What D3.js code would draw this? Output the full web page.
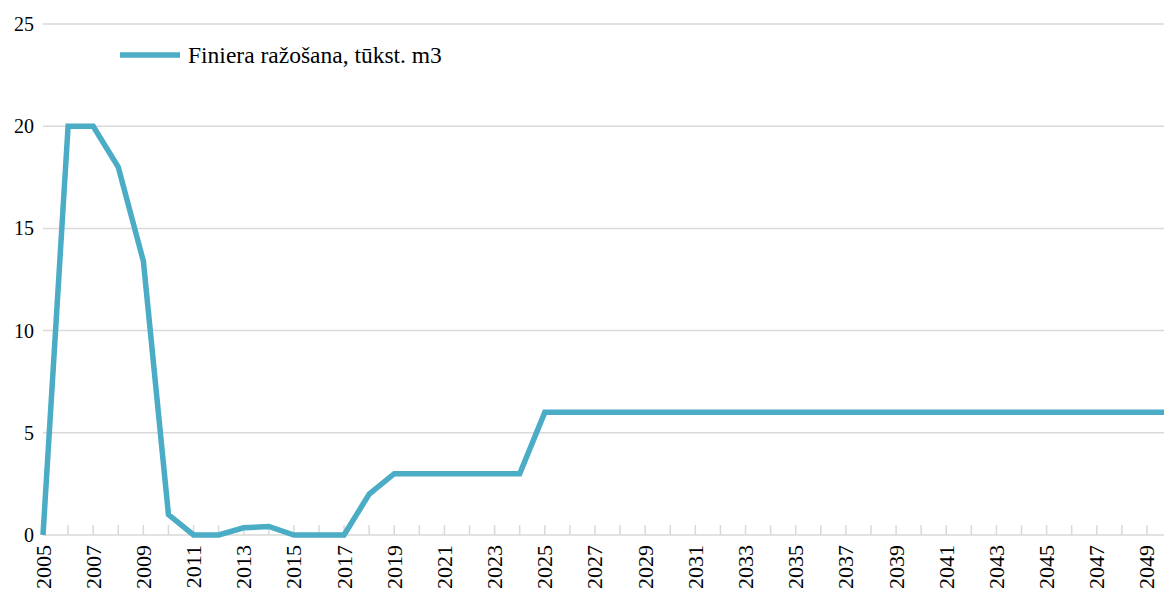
<!DOCTYPE html>
<html>
<head>
<meta charset="utf-8">
<script src="https://cdn.jsdelivr.net/npm/d3@7"></script>
<style>
  body { margin: 0; background: #fff; }
  text { font-family: "Liberation Serif", "DejaVu Serif", serif; fill: #000; }
</style>
</head>
<body>
<svg id="chart" width="1164" height="590"></svg>
<script>
// data
var years = d3.range(2005, 2051);
var values = [0, 20, 20, 18, 13.4, 1, 0, 0, 0.35, 0.42, 0, 0, 0, 2, 3,
  3, 3, 3, 3, 3, 6, 6, 6, 6, 6, 6, 6, 6, 6, 6,
  6, 6, 6, 6, 6, 6, 6, 6, 6, 6, 6, 6, 6, 6, 6, 6];
var yTicks = [0, 5, 10, 15, 20, 25];
var seriesName = 'Finiera ražošana, tūkst. m3';

var svg = d3.select('#chart'),
    x0 = 43, step = 25.09, yBottom = 535, yTop = 24;

var x = d3.scaleLinear().domain([2005, 2050]).range([x0, x0 + 45 * step]);
var y = d3.scaleLinear().domain([0, 25]).range([yBottom, yTop]);

// grid
svg.append('g').selectAll('line')
  .data(yTicks.filter(function(d) { return d > 0; }))
  .enter().append('line')
  .attr('x1', x0).attr('x2', 1164)
  .attr('y1', function(d) { return y(d); })
  .attr('y2', function(d) { return y(d); })
  .attr('stroke', '#d9d9d9').attr('stroke-width', 1.5);

// y labels
svg.append('g').selectAll('text')
  .data(yTicks)
  .enter().append('text')
  .attr('x', 34)
  .attr('y', function(d) { return y(d) + 7; })
  .attr('text-anchor', 'end')
  .style('font-size', '20px')
  .text(function(d) { return d; });

// x axis line + ticks
svg.append('line')
  .attr('x1', x0).attr('x2', 1164)
  .attr('y1', yBottom).attr('y2', yBottom)
  .attr('stroke', '#d9d9d9').attr('stroke-width', 1.5);

svg.append('g').selectAll('line')
  .data(years)
  .enter().append('line')
  .attr('x1', function(d) { return x(d); })
  .attr('x2', function(d) { return x(d); })
  .attr('y1', yBottom - 10).attr('y2', yBottom)
  .attr('stroke', '#d9d9d9').attr('stroke-width', 1.5);

// x labels (every other year)
svg.append('g').selectAll('text')
  .data(years.filter(function(d) { return (d - 2005) % 2 === 0; }))
  .enter().append('text')
  .attr('transform', function(d) {
    return 'translate(' + (x(d) + 7.5) + ',' + (yBottom + 10) + ') rotate(-90)';
  })
  .attr('text-anchor', 'end')
  .style('font-size', '22px')
  .text(function(d) { return d; });

// series line
var line = d3.line()
  .x(function(d, i) { return x(years[i]); })
  .y(function(d) { return y(d); });

svg.append('path')
  .datum(values)
  .attr('d', line)
  .attr('fill', 'none')
  .attr('stroke', '#4bacc6')
  .attr('stroke-width', 5.5)
  .attr('stroke-linejoin', 'miter');

// legend
svg.append('line')
  .attr('x1', 120).attr('x2', 180)
  .attr('y1', 55).attr('y2', 55)
  .attr('stroke', '#4bacc6').attr('stroke-width', 5.5);
svg.append('text')
  .attr('x', 188).attr('y', 63)
  .style('font-size', '23.5px')
  .text(seriesName);
</script>
</body>
</html>
